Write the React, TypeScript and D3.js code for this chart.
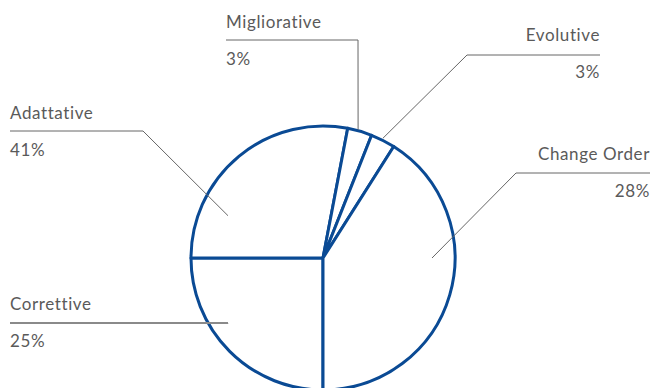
import React from "react";
import * as d3 from "d3";

// Slice data (drawn clockwise starting at 6 o'clock)
const sliceNames = ["Correttive", "Adattative", "Migliorative", "Evolutive", "Change Order"];
const sliceValues = [25, 28, 3, 3, 41];
// Label texts as printed on the chart
const labelNames = ["Correttive", "Adattative", "Migliorative", "Evolutive", "Change Order"];
const labelPercents = ["25%", "41%", "3%", "3%", "28%"];

// Label layout: text anchor x, side, name baseline, rule y, elbow x, anchor polar (deg clockwise from 12, radius)
const labelAlign = ["start", "start", "start", "end", "end"];
const labelTextX = [10, 10, 226, 600, 650];
const labelNameY = [310, 119, 28, 41, 160];
const labelRuleY = [323, 131, 40, 55, 173];
const labelElbowX = [228, 143, 358, 467, 516];
const labelAnchor: [number, number][] = [
  [235.6, 115],
  [294, 104],
  [15.3, 133],
  [26.6, 134],
  [90, 109],
];
const labelRuleStyle = [
  { stroke: "#8a8a8a", width: 2 },
  { stroke: "#666", width: 1 },
  { stroke: "#666", width: 1 },
  { stroke: "#666", width: 1 },
  { stroke: "#666", width: 1 },
];

const W = 654;
const H = 388;
const CX = 323;
const CY = 258;
const R = 132;

export default function App() {
  const pie = d3
    .pie<number>()
    .sort(null)
    .startAngle(Math.PI)
    .endAngle(3 * Math.PI);
  const arcs = pie(sliceValues);
  const arc = d3.arc<d3.PieArcDatum<number>>().innerRadius(0).outerRadius(R);

  const polar = (deg: number, r: number): [number, number] => {
    const a = (deg * Math.PI) / 180;
    return [CX + r * Math.sin(a), CY - r * Math.cos(a)];
  };

  return (
    <svg
      width={W}
      height={H}
      style={{ position: "absolute", left: 0, top: 0, background: "#fff" }}
      fontFamily="Lato, 'Open Sans', sans-serif"
    >
      <g transform={`translate(${CX},${CY})`}>
        {arcs.map((a, i) => (
          <path
            key={sliceNames[i]}
            d={arc(a) || ""}
            fill="#fff"
            stroke="#0a4a94"
            strokeWidth={3}
            strokeLinejoin="round"
          />
        ))}
      </g>
      {labelNames.map((name, i) => {
        const [ax, ay] = polar(labelAnchor[i][0], labelAnchor[i][1]);
        const ruleY = labelRuleY[i];
        const path = d3.path();
        path.moveTo(labelTextX[i], ruleY);
        path.lineTo(labelElbowX[i], ruleY);
        path.lineTo(ax, ay);
        return (
          <g key={name}>
            <path
              d={path.toString()}
              fill="none"
              stroke={labelRuleStyle[i].stroke}
              strokeWidth={labelRuleStyle[i].width}
            />
            <text
              x={labelTextX[i]}
              y={labelNameY[i]}
              textAnchor={labelAlign[i]}
              fontSize={17}
              letterSpacing={0.6}
              fill="#5a5a5a"
            >
              {name}
            </text>
            <text
              x={labelTextX[i]}
              y={labelNameY[i] + 37}
              textAnchor={labelAlign[i]}
              fontSize={17}
              letterSpacing={0.6}
              fill="#5a5a5a"
            >
              {labelPercents[i]}
            </text>
          </g>
        );
      })}
    </svg>
  );
}
